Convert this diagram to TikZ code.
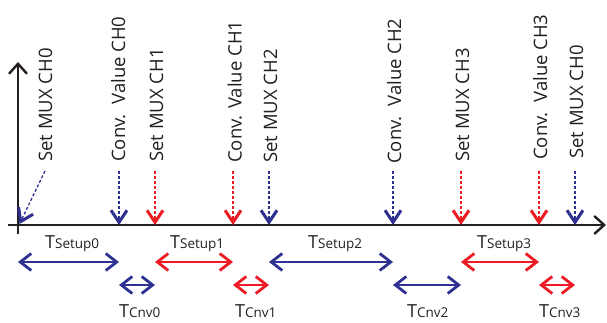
\documentclass[tikz,border=0pt]{standalone}
\usepackage{fontspec}
\setmainfont{Open Sans}
\usetikzlibrary{arrows.meta}
\definecolor{cblue}{HTML}{2E3192}
\definecolor{cred}{HTML}{ED1C24}
\definecolor{axisc}{HTML}{231F20}
\begin{document}
\begin{tikzpicture}[x=1pt,y=-1pt,
  evlabel/.style={rotate=90,anchor=base west,inner sep=0pt,text=axisc,font=\fontsize{18.5}{20}\selectfont},
  evarrow/.style={dash pattern=on 3pt off 2pt,line width=1.3pt,-{Straight Barb[length=12pt,width=16pt,line width=3pt]}},
  spanarrow/.style={line width=1.4pt,{Straight Barb[length=11pt,width=17pt,line width=2.8pt]}-{Straight Barb[length=11pt,width=17pt,line width=2.8pt]}},
  tlabel/.style={inner sep=0pt,anchor=base west,text=axisc},
  axisline/.style={line width=2pt,draw=axisc,-{Straight Barb[length=10pt,width=18pt,line width=2.4pt]}}
]
\path[use as bounding box] (0,0) rectangle (607,323);
\newcommand{\tl}[2]{{\fontsize{18}{20}\selectfont T}{\fontsize{13.5}{15}\selectfont #1#2}}
% axes
\coordinate (o) at (18,225);
\coordinate (xs) at (8,225);
\coordinate (xe) at (606,225);
\coordinate (ys) at (18,234);
\coordinate (ye) at (18,62);
\draw[axisline] (xs) -- (xe);
\draw[axisline] (ys) -- (ye);
% events
\foreach \i/\x/\t/\bx/\by in {
  0/18/{Set MUX CH0}/52/162,
  1/119/{Conv.~~Value CH0}/125/162,
  2/155/{Set MUX CH1}/163/162,
  3/233/{Conv. Value CH1}/241.5/163,
  4/269/{Set MUX CH2}/277/163,
  5/393/{Conv.~~Value CH2}/401/164,
  6/461/{Set MUX CH3}/469/162,
  7/539/{Conv.~~Value CH3}/547/160,
  8/575/{Set MUX CH0}/583/159}{
  \coordinate (p\i) at (\x,225);
  \node[evlabel] (l\i) at (\bx,\by) {\t};
}
\coordinate (s0) at (45,171);
\coordinate (q0) at (19.5,224);
\draw[evarrow,cblue] (s0) -- (q0);
\foreach \i/\x/\c in {1/119/cblue,2/155/cred,3/233/cred,4/269/cblue,5/393/cblue,6/461/cred,7/539/cred,8/575/cblue}{
  \coordinate (s\i) at (\x,171);
  \draw[evarrow,\c] (s\i) -- (p\i);
}
% spans
\coordinate (r1) at (0,262);
\coordinate (r2) at (0,285);
\draw[spanarrow,cblue] (p0 |- r1) -- (p1 |- r1);
\draw[spanarrow,cred] (p2 |- r1) -- (p3 |- r1);
\draw[spanarrow,cblue] (p4 |- r1) -- (p5 |- r1);
\draw[spanarrow,cred] (p6 |- r1) -- (p7 |- r1);
\draw[spanarrow,cblue] (p1 |- r2) -- (p2 |- r2);
\draw[spanarrow,cred] (p3 |- r2) -- (p4 |- r2);
\draw[spanarrow,cblue] (p5 |- r2) -- (p6 |- r2);
\draw[spanarrow,cred] (p7 |- r2) -- (p8 |- r2);
% span labels
\node[tlabel] (ts0) at (45,248) {\tl{Setup}{0}};
\node[tlabel] (ts1) at (170,248) {\tl{Setup}{1}};
\node[tlabel] (ts2) at (308,248) {\tl{Setup}{2}};
\node[tlabel] (ts3) at (477,248) {\tl{Setup}{3}};
\node[tlabel] (tc0) at (119,317) {\tl{Cnv}{0}};
\node[tlabel] (tc1) at (235,317) {\tl{Cnv}{1}};
\node[tlabel] (tc2) at (407,317) {\tl{Cnv}{2}};
\node[tlabel] (tc3) at (539,317) {\tl{Cnv}{3}};
\end{tikzpicture}
\end{document}
